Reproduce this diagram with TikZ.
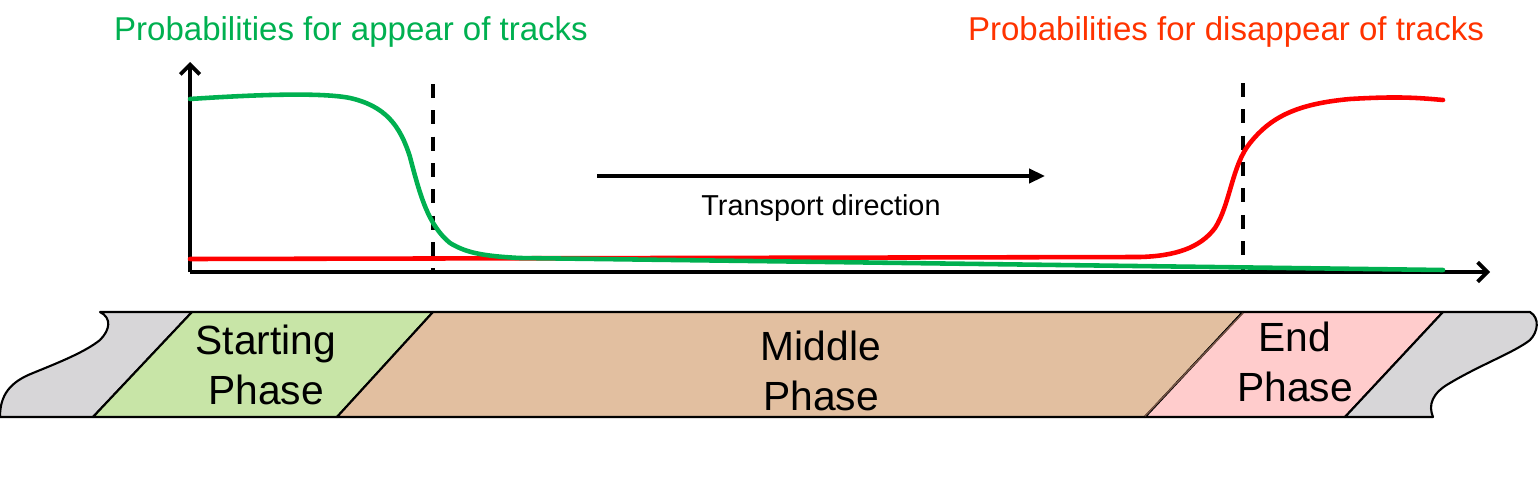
\documentclass[tikz,border=0pt]{standalone}
\usepackage{fontspec}
\setmainfont{Liberation Sans}
\usetikzlibrary{positioning}
\usetikzlibrary {arrows.meta}

\definecolor{appeargreen}{RGB}{0,176,80}
\definecolor{disappearred}{RGB}{255,51,0}
\definecolor{curvered}{RGB}{255,0,0}
\definecolor{endgray}{RGB}{215,214,216}
\definecolor{startgreen}{RGB}{200,229,167}
\definecolor{middlebrown}{RGB}{226,191,160}
\definecolor{endpink}{RGB}{255,204,204}
\definecolor{seambrown}{RGB}{120,85,70}

\tikzset{
	axisline/.style={line width=2.2pt,-{Straight Barb[length=5.5pt,width=11pt]}},
	phaseline/.style={line width=2.2pt,dash pattern=on 8pt off 7pt},
	probcurve/.style={line width=2.6pt,line cap=round},
	phasebox/.style={draw=black,line width=1.2pt,line join=round},
	phasetext/.style={font=\fontsize{23.2}{28}\selectfont,align=center,inner sep=0},
	titletext/.style={font=\fontsize{18.8}{22}\selectfont,inner sep=0}
}

\begin{document}
\begin{tikzpicture}[x=0.02cm,y=-0.02cm]
		\useasboundingbox (0,0) rectangle (1538,480);
		
		% titles
		\node[titletext,text=appeargreen] (appear) at (351,32) {Probabilities for appear of tracks};
		\node[titletext,text=disappearred] (disappear) at (1226,32) {Probabilities for disappear of tracks};
		
		% phase strip
		\draw[phasebox,fill=endgray] (100,312) .. controls (112,318) and (110,330) .. (100,340)
		.. controls (85,352) and (60,362) .. (33,373) .. controls (10,382) and (0,395) .. (0,417)
		-- (93,417) -- (192,312) -- cycle;
		\draw[phasebox,fill=startgreen] (192,312) -- (433,312) -- (337,417) -- (93,417) -- cycle;
		\draw[phasebox,fill=middlebrown] (433,312) -- (1243,312) -- (1145,417) -- (337,417) -- cycle;
		\draw[phasebox,fill=endpink] (1243,312) -- (1443,312) -- (1345,417) -- (1145,417) -- cycle;
		\draw[seambrown,line width=0.8pt] (1243,313) -- (1145,416);
		\draw[phasebox,fill=endgray] (1443,312) -- (1530,312) .. controls (1540,318) and (1538,332) .. (1530,340)
		.. controls (1515,352) and (1480,365) .. (1450,383) .. controls (1432,393) and (1428,405) .. (1433,417)
		-- (1345,417) -- cycle;
		
		\node[phasetext] (start) at (266,365) {Starting\\Phase};
		\node[phasetext] (middle) at (821,371) {Middle\\Phase};
		\node[phasetext] (end) at (1295,362) {End\\Phase};
		
		% axes
		\coordinate (origin) at (190,272);
		\coordinate (ytip) at (190,62);
		\coordinate (xtip) at (1490,272);
		\draw[axisline] (origin) -- (ytip);
		\draw[axisline] (origin) -- (xtip);
		
		% phase borders
		\draw[phaseline] (433,84) -- (433,272);
		\draw[phaseline] (1243,83) -- (1243,272);
		
		% curves
		\draw[probcurve,curvered] (190,259) -- (1140,257) .. controls (1175,256) and (1200,248) .. (1215,228)
		.. controls (1230,205) and (1232,165) .. (1250,143) .. controls (1270,118) and (1295,104) .. (1350,99)
		.. controls (1400,96) and (1420,98) .. (1443,100);
		\draw[probcurve,appeargreen] (190,99) .. controls (250,95) and (320,92) .. (350,98)
		.. controls (385,106) and (400,125) .. (410,157) .. controls (420,195) and (428,225) .. (450,243)
		.. controls (465,252) and (480,256) .. (520,258) -- (1443,270);
		
		% transport direction
		\coordinate (tstart) at (597,176);
		\coordinate (tend) at (1045,176);
		\draw[line width=2pt,-{Triangle[length=9pt,width=8pt]}] (tstart) -- (tend);
		\node[font=\fontsize{16.4}{20}\selectfont,inner sep=0] (transport) at (821,208) {Transport direction};
	\end{tikzpicture}
\end{document}
